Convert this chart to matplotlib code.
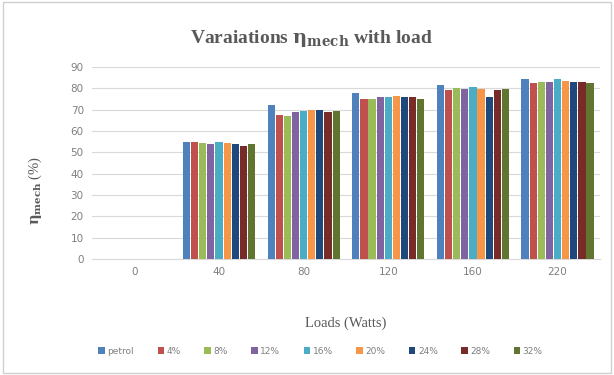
import numpy as np
import matplotlib.pyplot as plt
from matplotlib.patches import Rectangle

plt.rcParams['mathtext.fontset'] = 'dejavuserif'

loads = ['0', '40', '80', '120', '160', '220']
series_names = ['petrol', '4%', '8%', '12%', '16%', '20%', '24%', '28%', '32%']

petrol = [0, 55.1, 72.1, 78.0, 81.5, 84.2]
b4 = [0, 55.1, 67.7, 75.2, 79.1, 82.4]
b8 = [0, 54.4, 67.3, 75.2, 80.2, 83.1]
b12 = [0, 53.8, 68.9, 75.8, 79.6, 83.1]
b16 = [0, 55.1, 69.5, 75.8, 80.9, 84.2]
b20 = [0, 54.4, 70.0, 76.6, 79.8, 83.5]
b24 = [0, 53.8, 70.0, 75.8, 75.8, 83.1]
b28 = [0, 53.2, 68.8, 75.8, 79.1, 83.1]
b32 = [0, 53.8, 69.5, 75.2, 79.8, 82.4]

colors = ['#4F81BD', '#C0504D', '#9BBB59', '#8064A2', '#4BACC6',
          '#F79646', '#1F497D', '#772C2A', '#5F7530']

all_series = [petrol, b4, b8, b12, b16, b20, b24, b28, b32]

fig = plt.figure(figsize=(6.14, 3.75), dpi=100)
fig.patches.append(Rectangle((0.005, 0.005), 0.99, 0.99, transform=fig.transFigure,
                             fill=False, edgecolor='#d0d0d0', linewidth=1))
ax = fig.add_axes([0.15, 0.309, 0.827, 0.512])

x = np.arange(len(loads))
w = 0.096
for i, (name, vals) in enumerate(zip(series_names, all_series)):
    offs = (i - 4) * w
    ax.bar(x + offs, vals, width=w * 0.88, color=colors[i], label=name, zorder=3)

ax.set_ylim(0, 90)
ax.set_yticks(range(0, 91, 10))
ax.set_xlim(-0.5, len(loads) - 0.5)
ax.set_xticks(x)
ax.set_xticklabels(loads)
ax.grid(axis='y', color='#d9d9d9', linewidth=0.8, zorder=0)
for s in ['top', 'right', 'left']:
    ax.spines[s].set_visible(False)
ax.spines['bottom'].set_color('#d9d9d9')
ax.tick_params(length=0, labelsize=7.5, colors='#7f7f7f', pad=6)

fig.text(0.507, 0.898, r'Varaiations $\mathbf{\eta_{mech}}$ with load', ha='center', va='center',
         fontfamily='Liberation Serif', fontweight='bold', fontsize=14, color='#595959')
ax.set_xlabel('Loads (Watts)', fontfamily='Liberation Serif', fontsize=10.5,
              color='#595959', labelpad=28)
ax.set_ylabel(r'$\mathbf{\eta_{mech}}$ (%)', fontfamily='Liberation Serif', fontsize=10.5,
              color='#595959')
ax.yaxis.set_label_coords(-0.095, 0.36)

ax.legend(loc='center', bbox_to_anchor=(0.45, -0.48), ncol=9, frameon=False,
          fontsize=6.5, handlelength=0.7, handleheight=0.7, handletextpad=0.3,
          columnspacing=2.6, labelcolor='#7f7f7f')

fig.savefig('out.png', dpi=100)
